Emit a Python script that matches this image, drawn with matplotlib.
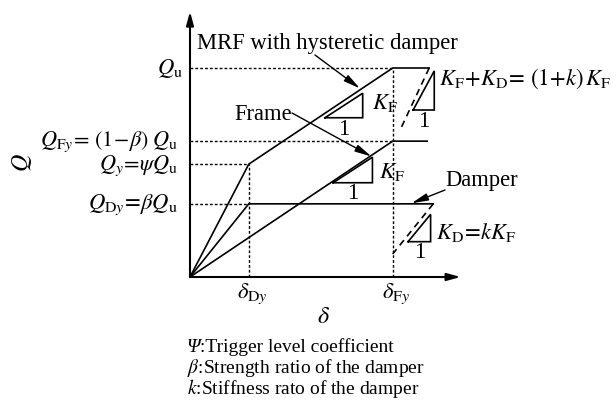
import matplotlib
matplotlib.use('Agg')
import matplotlib.pyplot as plt

plt.rcParams['font.family'] = ['Liberation Serif', 'DejaVu Serif']
plt.rcParams['mathtext.fontset'] = 'stix'

# ---- data (normalised: delta_Fy = 1, Q_u = 1) ----
delta_Dy = 0.29
delta_Fy = 1.0
Q_u = 1.0
Q_Fy = 0.65
Q_y = 0.54
Q_Dy = 0.35

mrf_delta = [0.0, 0.29, 1.0, 1.18]
mrf_Q = [0.0, 0.54, 1.0, 1.0]
frame_delta = [0.0, 1.0, 1.17]
frame_Q = [0.0, 0.65, 0.65]
damper_delta = [0.0, 0.29, 1.20]
damper_Q = [0.0, 0.35, 0.35]
mrf_unload_delta = [1.18, 1.035]
mrf_unload_Q = [1.0, 0.70]
damper_unload_delta = [1.20, 1.0]
damper_unload_Q = [0.35, 0.11]

# slope triangles: (right-corner delta, base Q, base width, slope)
triangles = [(0.852, 0.762, 0.186, 0.63),
             (0.900, 0.451, 0.194, 0.63),
             (1.205, 0.799, 0.104, 1.80),
             (1.187, 0.169, 0.111, 1.18)]

axis_delta_max = 1.335
axis_Q_max = 1.27

# ---- figure ----
fig = plt.figure(figsize=(6.16, 4.04), dpi=100)
ax = fig.add_axes([0, 0, 1, 1])
X0, Y0, SX, SY = 190.0, 277.0, 202.7, 209.0
ax.set_xlim(-X0 / SX, (616 - X0) / SX)
ax.set_ylim(-(404 - Y0) / SY, Y0 / SY)
ax.axis('off')


def P(x, y):
    return ((x - X0) / SX, (Y0 - y) / SY)


LW = 1.2
dot = dict(color='k', lw=1.0, linestyle=(0, (2.0, 1.5)))

# axes with arrows
ax.annotate('', xy=(0, axis_Q_max), xytext=(0, 0),
            arrowprops=dict(arrowstyle='-|>,head_length=0.8,head_width=0.22',
                            color='k', lw=1.5, shrinkA=0, shrinkB=0))
ax.annotate('', xy=(axis_delta_max, 0), xytext=(0, 0),
            arrowprops=dict(arrowstyle='-|>,head_length=0.8,head_width=0.22',
                            color='k', lw=1.5, shrinkA=0, shrinkB=0))

# guide lines
ax.plot([0, delta_Fy], [Q_u, Q_u], **dot)
ax.plot([0, delta_Fy], [Q_Fy, Q_Fy], **dot)
ax.plot([0, delta_Dy], [Q_y, Q_y], **dot)
ax.plot([0, delta_Dy], [Q_Dy, Q_Dy], **dot)
ax.plot([delta_Dy, delta_Dy], [0, Q_y], **dot)
ax.plot([delta_Fy, delta_Fy], [0, Q_u], **dot)

# curves
ax.plot(mrf_delta, mrf_Q, color='k', lw=LW)
ax.plot(frame_delta, frame_Q, color='k', lw=LW)
ax.plot(damper_delta, damper_Q, color='k', lw=LW)
ax.plot(mrf_unload_delta, mrf_unload_Q, color='k', lw=LW, linestyle=(0, (4, 3)))
ax.plot(damper_unload_delta, damper_unload_Q, color='k', lw=LW, linestyle=(0, (4, 3)))

# slope triangles
for r, b, w, s in triangles:
    ax.plot([r - w, r, r, r - w], [b, b, b + w * s, b], color='k', lw=LW,
            solid_joinstyle='miter')

FS = 16.3
arrow_kw = dict(arrowstyle='-|>,head_length=1.0,head_width=0.22',
                color='k', lw=1.0, shrinkA=0, shrinkB=0)

# callouts
ax.text(*P(197, 49), 'MRF with hysteretic damper', fontsize=FS, ha='left', va='baseline')
ax.annotate('', xy=P(360, 88.5), xytext=P(315, 55), arrowprops=arrow_kw)
ax.text(*P(234, 120), 'Frame', fontsize=FS, ha='left', va='baseline')
ax.annotate('', xy=P(371.5, 156.5), xytext=P(292, 113), arrowprops=arrow_kw)
ax.text(*P(445, 186), 'Damper', fontsize=FS, ha='left', va='baseline')
ax.annotate('', xy=P(411.5, 203.3), xytext=P(445, 190), arrowprops=arrow_kw)

# slope labels
ax.text(*P(372, 109), r'$K_{\mathrm{F}}$', fontsize=FS, ha='left', va='baseline')
ax.text(*P(344, 135), '1', fontsize=FS, ha='center', va='baseline')
ax.text(*P(379, 178), r'$K_{\mathrm{F}}$', fontsize=FS, ha='left', va='baseline')
ax.text(*P(353, 199), '1', fontsize=FS, ha='center', va='baseline')
ax.text(*P(439, 85), r'$K_{\mathrm{F}}\!+\!K_{\mathrm{D}}\!=\,(1\!+\!k)\,K_{\mathrm{F}}$',
        fontsize=FS, ha='left', va='baseline')
ax.text(*P(423.5, 127), '1', fontsize=FS, ha='center', va='baseline')
ax.text(*P(436, 239), r'$K_{\mathrm{D}}\!=\!kK_{\mathrm{F}}$', fontsize=FS, ha='left', va='baseline')
ax.text(*P(419.5, 258), '1', fontsize=FS, ha='center', va='baseline')

# y-side labels
ax.text(*P(183, 74), r'$Q_{\mathrm{u}}$', fontsize=FS, ha='right', va='baseline')
ax.text(*P(178, 146), r'$Q_{\mathrm{F}y}\!=\,(1\!-\!\beta)\;Q_{\mathrm{u}}$', fontsize=FS - 0.3,
        ha='right', va='baseline')
ax.text(*P(178, 170), r'$Q_{y}\!=\!\psi Q_{\mathrm{u}}$', fontsize=FS - 0.3, ha='right', va='baseline')
ax.text(*P(178, 209), r'$Q_{\mathrm{D}y}\!=\!\beta Q_{\mathrm{u}}$', fontsize=FS,
        ha='right', va='baseline')
ax.text(*P(22, 163), r'$Q$', fontsize=FS + 1, ha='center', va='center', rotation=90)

# x-side labels
ax.text(*P(252, 298), r'$\delta_{\mathrm{D}y}$', fontsize=FS, ha='center', va='baseline')
ax.text(*P(396, 298), r'$\delta_{\mathrm{F}y}$', fontsize=FS, ha='center', va='baseline')
ax.text(*P(324, 323), r'$\delta$', fontsize=FS + 1, ha='center', va='baseline')

# notes
FS2 = 14.0
ax.text(*P(187, 352), 'Ψ', fontsize=FS2, ha='left', va='baseline', style='italic')
ax.text(*P(200, 352), ':Trigger level coefficient', fontsize=FS2, ha='left', va='baseline')
ax.text(*P(187, 373), r'$\beta$:Strength ratio of the damper', fontsize=FS2, ha='left', va='baseline')
ax.text(*P(187, 394), r'$k$:Stiffness rato of the damper', fontsize=FS2, ha='left', va='baseline')

fig.savefig('out.png', dpi=100)
